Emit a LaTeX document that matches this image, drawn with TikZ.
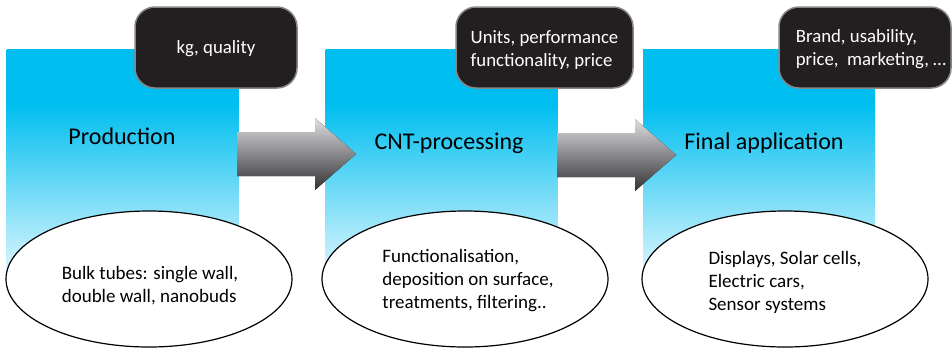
\documentclass[tikz,border=0pt]{standalone}
\usepackage{fontspec}
\setmainfont{Carlito}
\usetikzlibrary{shapes.geometric}
\definecolor{cyantop}{RGB}{0,190,240}
\definecolor{boxdark}{RGB}{35,31,32}
\definecolor{boxedge}{RGB}{135,135,135}
\definecolor{arrowlight}{RGB}{222,222,224}
\definecolor{arrowdark}{RGB}{50,50,52}
% stage panels: solid cyan at the top, fading to white at the bottom
\pgfdeclareverticalshading{stagefade}{100bp}{color(0bp)=(white); color(25bp)=(white); color(64bp)=(cyantop); color(100bp)=(cyantop)}
\tikzset{
  stage/.style={rectangle, shade, shading=stagefade, draw=none,
    minimum width=232pt, minimum height=251pt, inner sep=0pt},
  stagelabel/.style={font=\fontsize{24}{28}\selectfont, anchor=base, inner sep=0pt},
  metric/.style={rectangle, rounded corners=20pt, fill=boxdark, draw=boxedge,
    line width=1.5pt, inner sep=0pt},
  metrictext/.style={text=white, font=\fontsize{18.8}{23}\selectfont, align=left, inner sep=0pt},
  detail/.style={ellipse, fill=white, draw=black, line width=1.2pt,
    minimum width=286pt, minimum height=136pt, inner sep=0pt},
  detailtext/.style={font=\fontsize{19}{23}\selectfont, align=left, inner sep=0pt},
  flow/.style={top color=arrowlight, bottom color=arrowdark, draw=none},
}
\begin{document}
\begin{tikzpicture}[x=1pt, y=-1pt]
\useasboundingbox (0,0) rectangle (952,349);

% stage panels
\node[stage] (s1) at (122.5,174.5) {};
\node[stage] (s2) at (441.5,174.5) {};
\node[stage] (s3) at (759,174.5) {};

% block arrows between the stages
\fill[flow] (237,132) -- (315,132) -- (315,118) -- (356,154) -- (315,190)
  -- (315,176) -- (237,176) -- cycle;
\fill[flow] (557,133) -- (635,133) -- (635,119) -- (676,155) -- (635,191)
  -- (635,177) -- (557,177) -- cycle;

% stage names
\node[stagelabel] (l1) at (122,144) {Production};
\node[stagelabel] (l2) at (449,149) {CNT-processing};
\node[stagelabel] (l3) at (764,149) {Final application};

% value measures of each stage
\node[metric, minimum width=162pt, minimum height=81pt] (m1) at (216,47.5) {};
\node[metrictext] (mt1) at (216,49) {kg, quality};
\node[metric, minimum width=177pt, minimum height=81pt] (m2) at (544.5,47.5) {};
\node[metrictext] (mt2) at (544.5,50) {Units, performance\\functionality, price};
\node[metric, minimum width=172pt, minimum height=81pt] (m3) at (865,47.5) {};
\node[metrictext] (mt3) at (871,49) {Brand, usability,\\price,\ \ marketing, \dots};

% contents of each stage
\node[detail] (e1) at (149,279) {};
\node[detailtext] (d1) at (150,286) {Bulk tubes: single wall,\\double wall, nanobuds};
\node[detail] (e2) at (465,279) {};
\node[detailtext] (d2) at (468,281) {Functionalisation,\\deposition on surface,\\treatments, filtering..};
\node[detail] (e3) at (785,279) {};
\node[detailtext] (d3) at (785,282) {Displays, Solar cells,\\Electric cars,\\Sensor systems};
\end{tikzpicture}
\end{document}
